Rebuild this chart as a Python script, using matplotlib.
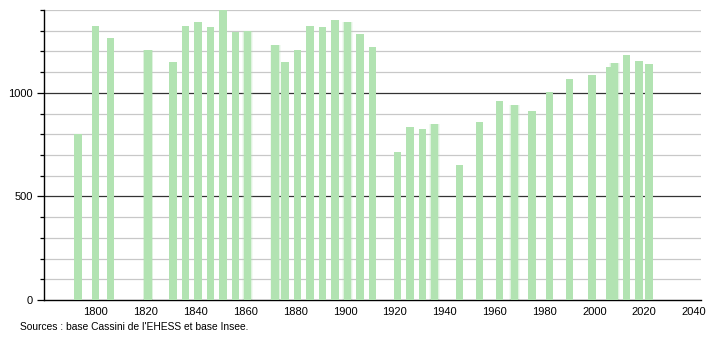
import matplotlib
matplotlib.use('Agg')
import matplotlib.pyplot as plt
from matplotlib.ticker import MultipleLocator

# recensements
years = [1793, 1800, 1806, 1821, 1831, 1836, 1841, 1846, 1851, 1856, 1861,
         1872, 1876, 1881, 1886, 1891, 1896, 1901, 1906, 1911,
         1921, 1926, 1931, 1936, 1946, 1954, 1962, 1968, 1975, 1982,
         1990, 1999, 2006, 2008, 2013, 2018, 2022]
population = [803, 1325, 1267, 1209, 1151, 1325, 1340, 1317, 1398, 1292, 1300,
              1229, 1151, 1209, 1325, 1316, 1350, 1343, 1282, 1222,
              716, 833, 827, 851, 653, 861, 963, 943, 914, 1006,
              1068, 1084, 1126, 1145, 1185, 1156, 1137]
# barres floues dans l'original
soft_years = [1821, 1861, 1872, 1901, 1936, 1968, 2008]
xtick_labels = list(range(1800, 2041, 20))
source = "Sources : base Cassini de l'EHESS et base Insee."

plt.rcParams['font.family'] = ['Liberation Sans', 'DejaVu Sans']
green = '#b2e3b2'

fig = plt.figure(figsize=(7.1, 3.4), dpi=100)
ax = fig.add_axes([0.062, 0.1176, 0.925, 0.853])

# grille
for v in range(100, 1401, 100):
    if v % 500 == 0:
        ax.axhline(v, color='#333333', lw=0.9, zorder=1)
    else:
        ax.axhline(v, color='#c8c8c8', lw=0.9, zorder=1)

for y, p in zip(years, population):
    if y in soft_years:
        for w, a in [(4.4, 0.15), (3.7, 0.3)]:
            ax.bar(y, p, width=w, color=green, alpha=a, lw=0, zorder=2)
    ax.bar(y, p, width=3.0, color=green, lw=0, zorder=3)

ax.set_xlim(1779.3, 2042.7)
ax.set_ylim(0, 1400)
ax.set_xticks(xtick_labels)
ax.set_xticklabels([str(t) for t in xtick_labels])
ax.set_yticks([0, 500, 1000])
ax.yaxis.set_minor_locator(MultipleLocator(100))
ax.tick_params(axis='x', length=0, labelsize=8, pad=5)
ax.tick_params(axis='y', which='major', length=5, width=0.9, labelsize=8, pad=3)
ax.tick_params(axis='y', which='minor', length=3, width=0.9)

for s in ['top', 'right']:
    ax.spines[s].set_visible(False)
ax.spines['left'].set_linewidth(1.0)
ax.spines['bottom'].set_linewidth(1.0)

fig.text(0.028, 0.038, source, fontsize=7.4, ha='left', va='center')

fig.savefig('out.png', dpi=100)
